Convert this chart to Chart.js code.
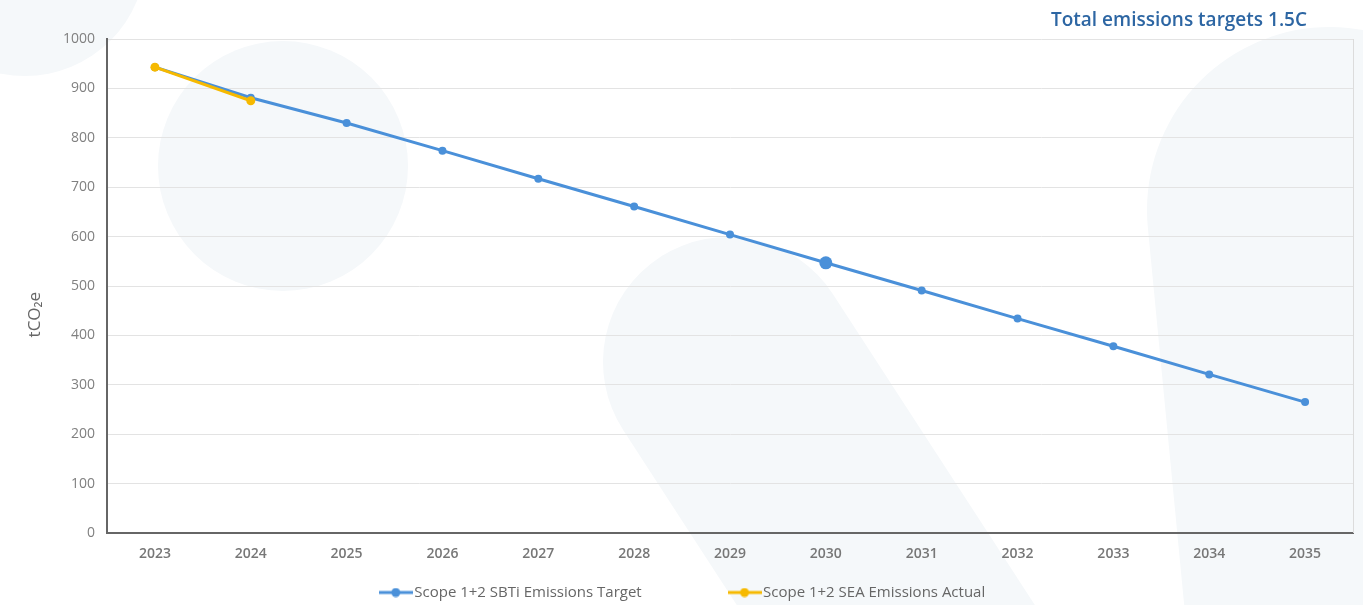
<!DOCTYPE html>
<html>
<head>
<meta charset="utf-8">
<script src="https://cdn.jsdelivr.net/npm/chart.js@4"></script>
<style>
  html, body { margin: 0; padding: 0; background: #fff; }
  #wrap { position: relative; width: 1363px; height: 605px; overflow: hidden; }
  .blob { position: absolute; background: #f5f8fa; }
  #title {
    position: absolute; right: 56px; top: 7px;
    font-family: "Open Sans", sans-serif; font-weight: 600; font-size: 19px;
    line-height: 24px; color: #2d66a3; z-index: 2;
  }
  canvas { position: relative; z-index: 1; }
</style>
</head>
<body>
<div id="wrap">
  <!-- decoration behind the chart -->
  <div class="blob" style="left:-96px;top:-166px;width:242px;height:242px;border-radius:50%"></div>
  <div class="blob" style="left:158px;top:41px;width:250px;height:250px;border-radius:50%"></div>
  <div class="blob" style="left:603px;top:237px;width:250px;height:800px;border-radius:125px;transform-origin:125px 125px;transform:rotate(-33deg)"></div>
  <div class="blob" style="left:1147px;top:27px;width:366px;height:900px;border-radius:183px;transform-origin:183px 183px;transform:rotate(-5.5deg)"></div>
  <div id="title">Total emissions targets 1.5C</div>
  <canvas id="emissionsChart" width="1363" height="605"></canvas>
</div>
<script>
// datos
const years = ['2023', '2024', '2025', '2026', '2027', '2028', '2029', '2030', '2031', '2032', '2033', '2034', '2035'];
const sbtiTarget = [943, 881, 830, 774, 717, 661, 604, 547, 491, 434, 378, 321, 265];
const seaActual = [943, 875];

const blue = '#4a90d9';
const yellow = '#f6b900';

// icono de leyenda: linea con punto al medio
function legendIcon(color) {
  let c = document.createElement('canvas');
  c.width = 34;
  c.height = 10;
  let g = c.getContext('2d');
  g.strokeStyle = color;
  g.lineWidth = 3;
  g.beginPath();
  g.moveTo(0, 5);
  g.lineTo(34, 5);
  g.stroke();
  g.fillStyle = color;
  g.beginPath();
  g.arc(17, 5, 4.5, 0, Math.PI * 2);
  g.fill();
  return c;
}

// borde derecho del area del grafico
const plotFrame = {
  id: 'plotFrame',
  beforeDatasetsDraw(chart) {
    let { ctx, chartArea } = chart;
    ctx.save();
    ctx.strokeStyle = '#dcdcdc';
    ctx.lineWidth = 1;
    ctx.beginPath();
    ctx.moveTo(chartArea.right + 0.5, chartArea.top);
    ctx.lineTo(chartArea.right + 0.5, chartArea.bottom);
    ctx.stroke();
    ctx.restore();
  }
};

const tickFont = { family: '"Open Sans", sans-serif', size: 14 };

new Chart(document.getElementById('emissionsChart'), {
  type: 'line',
  data: {
    labels: years,
    datasets: [{
      label: 'Scope 1+2 SBTi Emissions Target',
      data: sbtiTarget,
      borderColor: blue,
      backgroundColor: blue,
      borderWidth: 3,
      pointRadius: years.map(y => y === '2030' ? 6.5 : 4),
      pointBorderWidth: 0,
      tension: 0,
      order: 1
    }, {
      label: 'Scope 1+2 SEA Emissions Actual',
      data: seaActual,
      borderColor: yellow,
      backgroundColor: yellow,
      borderWidth: 3,
      pointRadius: 4.5,
      pointBorderWidth: 0,
      tension: 0,
      order: 0
    }]
  },
  options: {
    responsive: false,
    animation: false,
    layout: { padding: { top: 39, right: 10, bottom: -5, left: 17 } },
    plugins: {
      tooltip: { enabled: false },
      legend: {
        position: 'bottom',
        labels: {
          usePointStyle: true,
          pointStyleWidth: 22,
          padding: 10,
          color: '#666',
          font: { family: '"Open Sans", sans-serif', size: 15 },
          sort: (a, b) => a.datasetIndex - b.datasetIndex,
          generateLabels(chart) {
            let items = Chart.defaults.plugins.legend.labels.generateLabels(chart);
            items.forEach(it => {
              it.pointStyle = legendIcon(it.datasetIndex === 0 ? blue : yellow);
              if (it.datasetIndex === 0) it.text = it.text + ' '.repeat(21);
            });
            return items;
          }
        }
      }
    },
    scales: {
      x: {
        offset: true,
        grid: { display: false, drawTicks: false },
        border: { display: true, color: '#666', width: 2 },
        ticks: { color: '#777', padding: 13, font: Object.assign({ weight: '600' }, tickFont) },
        afterFit(scale) { scale.height = 42; }
      },
      y: {
        min: 0,
        max: 1000,
        ticks: {
          stepSize: 100,
          color: '#808080',
          padding: 12,
          font: tickFont,
          callback: v => String(v)
        },
        grid: {
          drawTicks: false,
          color: c => (c.tick && c.tick.value === 0) ? 'transparent' : '#e3e3e3'
        },
        border: { display: true, color: '#666', width: 2 },
        title: {
          display: true,
          text: 'tCO₂e' + ' '.repeat(13),
          color: '#666',
          padding: { top: 8, bottom: 0 },
          font: { family: '"Open Sans", sans-serif', size: 17 }
        },
        afterFit(scale) { scale.width = 90; }
      }
    }
  },
  plugins: [plotFrame]
});
</script>
</body>
</html>
